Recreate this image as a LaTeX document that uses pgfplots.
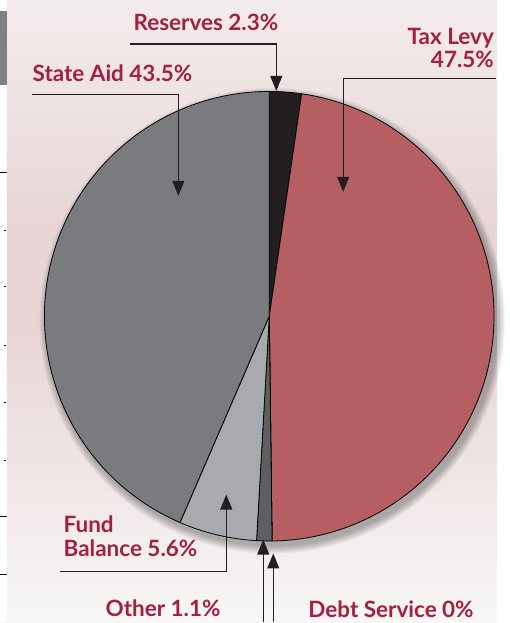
\documentclass[border=0pt]{standalone}
\usepackage{pgfplots}
\usepackage{pgfplotstable}
\pgfplotsset{compat=1.18}
\usepackage{fontspec}
\setmainfont{Lato}
\usetikzlibrary{arrows.meta}
\definecolor{cRes}{HTML}{231F20}
\definecolor{cTax}{HTML}{B55F63}
\definecolor{cOther}{HTML}{5E5F62}
\definecolor{cFund}{HTML}{A9AAAE}
\definecolor{cState}{HTML}{7A7B7F}
\definecolor{cLab}{HTML}{A3203F}
\definecolor{bgTop}{HTML}{F3ECEC}
\definecolor{bgMid}{HTML}{E8D6D6}
\definecolor{bgLow}{HTML}{F8F6F6}
\definecolor{cBlock}{HTML}{808285}
\pgfplotstableread[col sep=comma]{
label,value,color
Reserves,2.3,cRes
Tax Levy,47.5,cTax
Debt Service,0,cTax
Other,1.1,cOther
Fund Balance,5.6,cFund
State Aid,43.5,cState
}\piedata
\begin{document}
\begin{tikzpicture}
\begin{axis}[x=1pt,y=1pt,xmin=0,xmax=497,ymin=0,ymax=623,hide axis,clip=false,scale only axis]
% background
\fill[top color=bgTop, bottom color=bgMid] (axis cs:0,623) rectangle (axis cs:497,400);
\fill[bgMid] (axis cs:0,400) rectangle (axis cs:497,290);
\fill[top color=bgMid, bottom color=bgLow] (axis cs:0,290) rectangle (axis cs:497,0);
\fill[white] (axis cs:0,0) rectangle (axis cs:7,538);
\fill[white] (axis cs:0,612) rectangle (axis cs:7,623);
\fill[cBlock] (axis cs:0,538) rectangle (axis cs:7,612);
\pgfplotsinvokeforeach{450,106,48}{\draw[line width=1pt,black] (axis cs:0,#1) -- (axis cs:7,#1);}
\pgfplotsinvokeforeach{392,336,277,220,162}{\draw[line width=1pt,black] (axis cs:4,#1) -- (axis cs:6,#1);}
% shadow
\pgfplotsinvokeforeach{0,...,7}{\fill[black,opacity=0.04] (axis cs:272,302) circle[radius=226pt+#1pt];}
% pie
\def\cum{0}
\pgfplotstablegetrowsof{\piedata}\pgfmathtruncatemacro\lastrow{\pgfplotsretval-1}
\pgfplotsforeachungrouped \i in {0,...,\lastrow}{%
 \pgfplotstablegetelem{\i}{value}\of\piedata \let\vv\pgfplotsretval
 \pgfplotstablegetelem{\i}{color}\of\piedata \let\cc\pgfplotsretval
 \pgfmathsetmacro\angA{90-3.6*\cum}%
 \pgfmathsetmacro\angB{90-3.6*(\cum+\vv)}%
 \edef\temp{\noexpand\filldraw[fill=\cc, draw=black, line width=0.8pt, line join=round] (axis cs:269,306.5) -- ++(\angA:225pt) arc[start angle=\angA, end angle=\angB, radius=225pt] -- cycle;}%
 \temp
 \pgfmathsetmacro\cum{\cum+\vv}%
}
% labels
\tikzset{lab/.style={text=cLab, font=\bfseries\fontsize{22.5}{25}\selectfont, inner sep=0pt}, arr/.style={draw=cRes, line width=1.1pt, -{Triangle[width=12pt,length=15pt]}}}
\node[lab, anchor=base west] at (axis cs:133,592) {Reserves 2.3\%};
\draw[arr] (axis cs:130,579) -- (axis cs:276,579) -- (axis cs:276,532);
\node[lab, anchor=base west] at (axis cs:32,541) {State Aid 43.5\%};
\draw[arr] (axis cs:32,528) -- (axis cs:178,528) -- (axis cs:178,427);
\node[lab, anchor=base east] at (axis cs:494,578) {Tax Levy};
\node[lab, anchor=base east] at (axis cs:494,555) {47.5\%};
\draw[arr] (axis cs:496,544) -- (axis cs:343,544) -- (axis cs:343,431);
\node[lab, anchor=base west] at (axis cs:63,90) {Fund};
\node[lab, anchor=base west] at (axis cs:63,66) {Balance 5.6\%};
\draw[arr] (axis cs:60,51) -- (axis cs:226,51) -- (axis cs:226,128);
\node[lab, anchor=base west] at (axis cs:105,6) {Other 1.1\%};
\draw[arr] (axis cs:263,0) -- (axis cs:263,83);
\node[lab, anchor=base west] at (axis cs:308,5) {Debt Service 0\%};
\draw[arr] (axis cs:273,0) -- (axis cs:273,69);
\end{axis}
\end{tikzpicture}
\end{document}
